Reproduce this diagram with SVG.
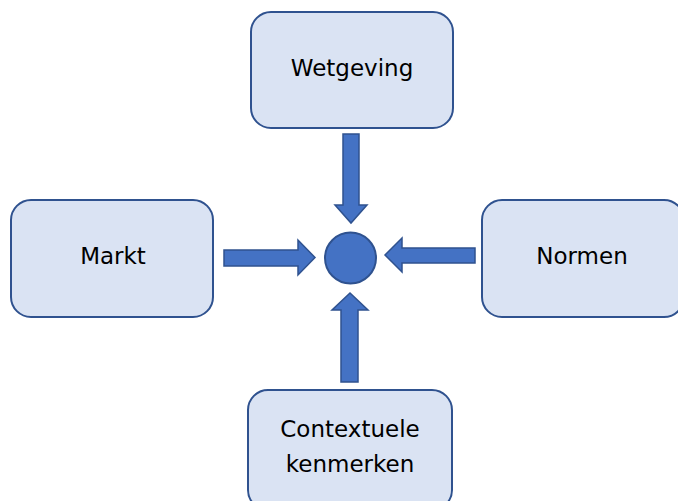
<svg xmlns="http://www.w3.org/2000/svg" width="678" height="501" viewBox="0 0 678 501">
<style>
.box{fill:#DAE3F3;stroke:#2F528F;stroke-width:2}
.arr{fill:#4472C4;stroke:#2F528F;stroke-width:1.5;stroke-linejoin:miter}
text{font-family:"DejaVu Sans",Verdana,sans-serif;font-size:23px;fill:#000;text-anchor:middle}
</style>
<rect width="678" height="501" fill="#fff"/>
<g id="wetgeving"><rect class="box" x="251" y="12" width="202" height="116" rx="20"/><text x="352" y="76">Wetgeving</text></g>
<g id="markt"><rect class="box" x="11" y="200" width="202" height="117" rx="20"/><text x="113" y="264">Markt</text></g>
<g id="normen"><rect class="box" x="482" y="200" width="202" height="117" rx="20"/><text x="582" y="264">Normen</text></g>
<g id="contextuele"><rect class="box" x="248" y="390" width="204" height="120" rx="20"/><text x="350" y="437">Contextuele</text><text x="350" y="472">kenmerken</text></g>
<g id="center"><circle cx="350.5" cy="258" r="25.5" fill="#4472C4" stroke="#2F528F" stroke-width="2"/></g>
<g id="connectors">
<polygon class="arr" points="343,134 359,134 359,205 367,205 351,223 335,205 343,205"/>
<polygon class="arr" points="224,250 298,250 298,240 315,257.5 298,275 298,266 224,266"/>
<polygon class="arr" points="475,248 402,248 402,238 385,255 402,272 402,263 475,263"/>
<polygon class="arr" points="341,382 358,382 358,310 368,310 350,293 332,310 341,310"/>
</g>
</svg>
